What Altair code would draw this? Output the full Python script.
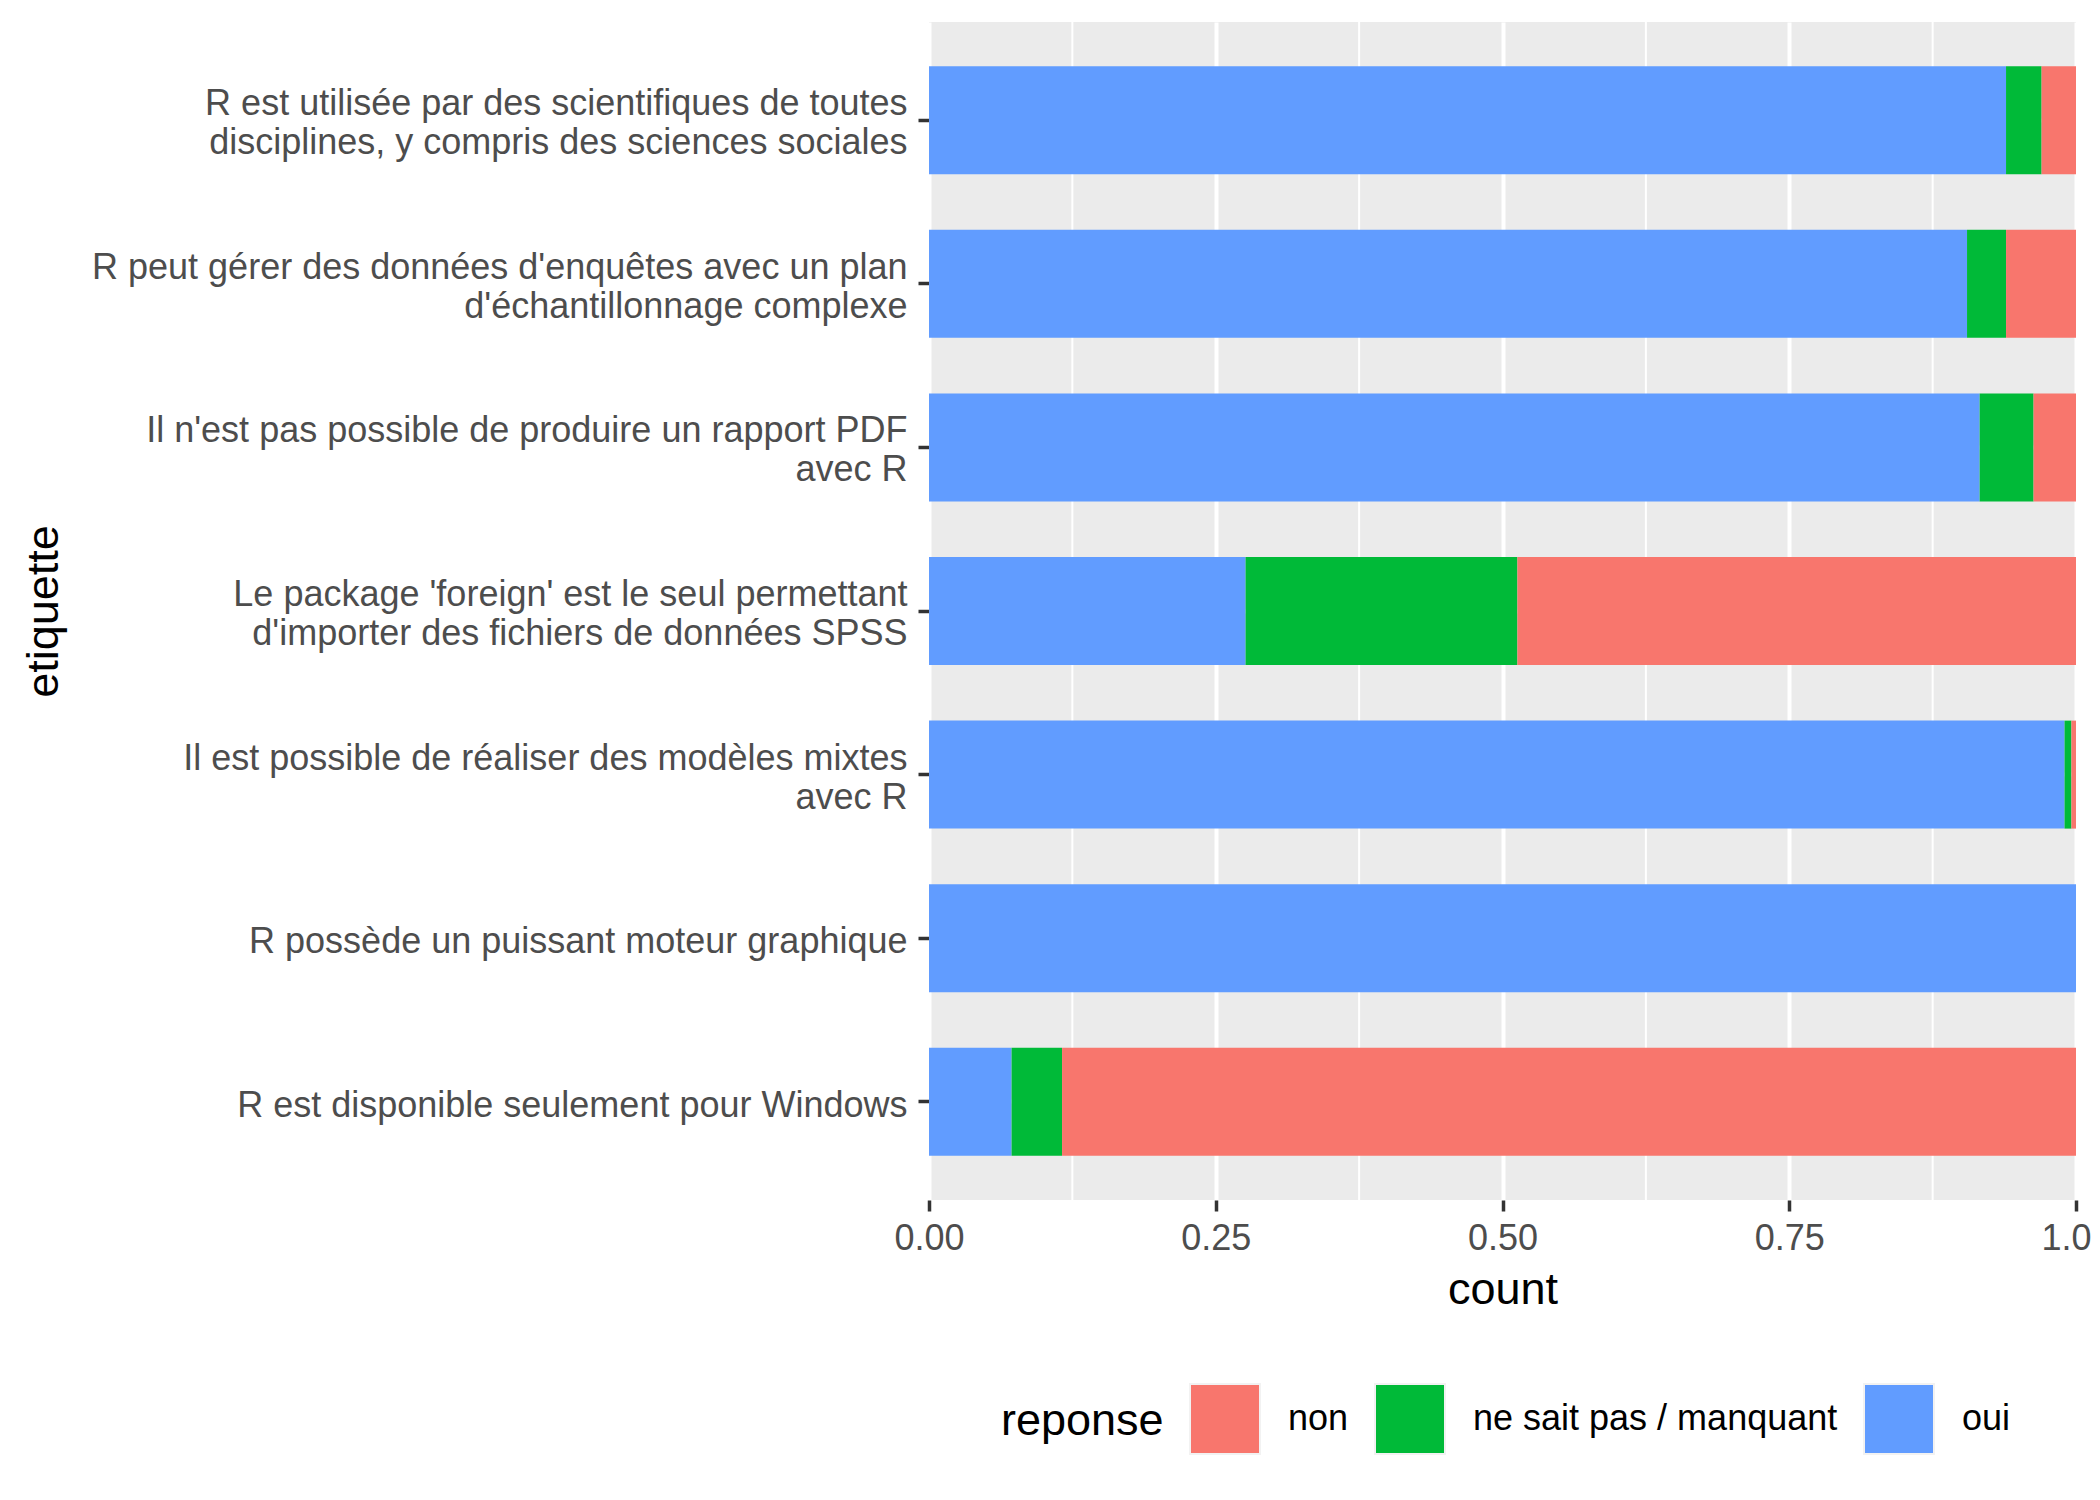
import altair as alt
import pandas as pd

etiquettes = [
    "R est utilisée par des scientifiques de toutes|disciplines, y compris des sciences sociales",
    "R peut gérer des données d'enquêtes avec un plan|d'échantillonnage complexe",
    "Il n'est pas possible de produire un rapport PDF|avec R",
    "Le package 'foreign' est le seul permettant|d'importer des fichiers de données SPSS",
    "Il est possible de réaliser des modèles mixtes|avec R",
    "R possède un puissant moteur graphique",
    "R est disponible seulement pour Windows",
]
oui = [0.939, 0.905, 0.916, 0.276, 0.990, 1.000, 0.072]
nsp = [0.031, 0.034, 0.047, 0.237, 0.006, 0.000, 0.044]
non = [0.030, 0.061, 0.037, 0.487, 0.004, 0.000, 0.884]

reponses = ["non", "ne sait pas / manquant", "oui"]
couleurs = ["#F8766D", "#00BA38", "#619CFF"]
ordre_pile = {"oui": 0, "ne sait pas / manquant": 1, "non": 2}

x_ticks = [0.0, 0.25, 0.5, 0.75, 1.0]
x_minor = [0.125, 0.375, 0.625, 0.875]

rows = []
for i, e in enumerate(etiquettes):
    for rep, vals in (("oui", oui), ("ne sait pas / manquant", nsp), ("non", non)):
        rows.append({"etiquette": e, "reponse": rep, "count": vals[i], "ordre": ordre_pile[rep]})
df = pd.DataFrame(rows)
df_minor = pd.DataFrame({"m": x_minor})

FONT = "Liberation Sans"

x_axis = alt.Axis(
    values=x_ticks, format=".2f", title="count",
    grid=True, gridColor="white", gridWidth=4,
    domain=False, ticks=True, tickColor="#333333", tickWidth=3.5, tickSize=11,
    labelFontSize=36, labelColor="#4D4D4D", labelFont=FONT, labelPadding=10,
    labelFlush=False,
    titleFontSize=45, titleColor="black", titleFont=FONT, titleFontWeight="normal",
    titleBaseline="alphabetic", titleY=103,
)
x_scale = alt.Scale(domain=[0, 1], nice=False, zero=True)

rules = alt.Chart(df_minor).mark_rule(color="white", strokeWidth=2).encode(
    x=alt.X("m:Q", scale=x_scale, axis=x_axis),
)

bars = alt.Chart(df).mark_bar().encode(
    x=alt.X("count:Q", stack="zero", scale=x_scale, axis=x_axis),
    y=alt.Y(
        "etiquette:N",
        sort=etiquettes,
        scale=alt.Scale(paddingInner=0.34, paddingOuter=0.27),
        axis=alt.Axis(
            title="etiquette",
            labelExpr="split(datum.label, '|')",
            labelLineHeight=39,
            labelOffset={"condition": {"test": "indexof(datum.value, '|') >= 0", "value": -16}, "value": 4},
            labelFontSize=36, labelColor="#4D4D4D", labelFont=FONT, labelPadding=11,
            labelLimit=2000,
            domain=False, ticks=True, tickColor="#333333", tickWidth=3.5, tickSize=11,
            grid=True, gridColor="white", gridWidth=4,
            titleFontSize=45, titleColor="black", titleFont=FONT, titleFontWeight="normal",
            titleBaseline="alphabetic", titleX=-872, titleAngle=270,
        ),
    ),
    color=alt.Color(
        "reponse:N",
        scale=alt.Scale(domain=reponses, range=couleurs),
        legend=alt.Legend(
            title="reponse",
            orient="none", legendX=72, legendY=1361,
            direction="horizontal", titleOrient="left",
            symbolType="square", symbolSize=4900,
            symbolStrokeColor="#F2F2F2", symbolStrokeWidth=2, symbolOpacity=1,
            labelOffset=27, columnPadding=22, titlePadding=25, labelLimit=2000,
            labelFontSize=36, labelColor="black", labelFont=FONT,
            titleFontSize=45, titleColor="black", titleFont=FONT, titleFontWeight="normal",
        ),
    ),
    order=alt.Order("ordre:Q", sort="ascending"),
)

chart = alt.layer(rules, bars).properties(
    width=1147,
    height=1178,
    autosize=alt.AutoSizeParams(type="none"),
    padding={"left": 921, "top": 14, "right": 16, "bottom": 290},
).configure_view(fill="#EBEBEB", stroke=None)

chart.save("out.html", embed_options={"renderer": "svg", "actions": False})
